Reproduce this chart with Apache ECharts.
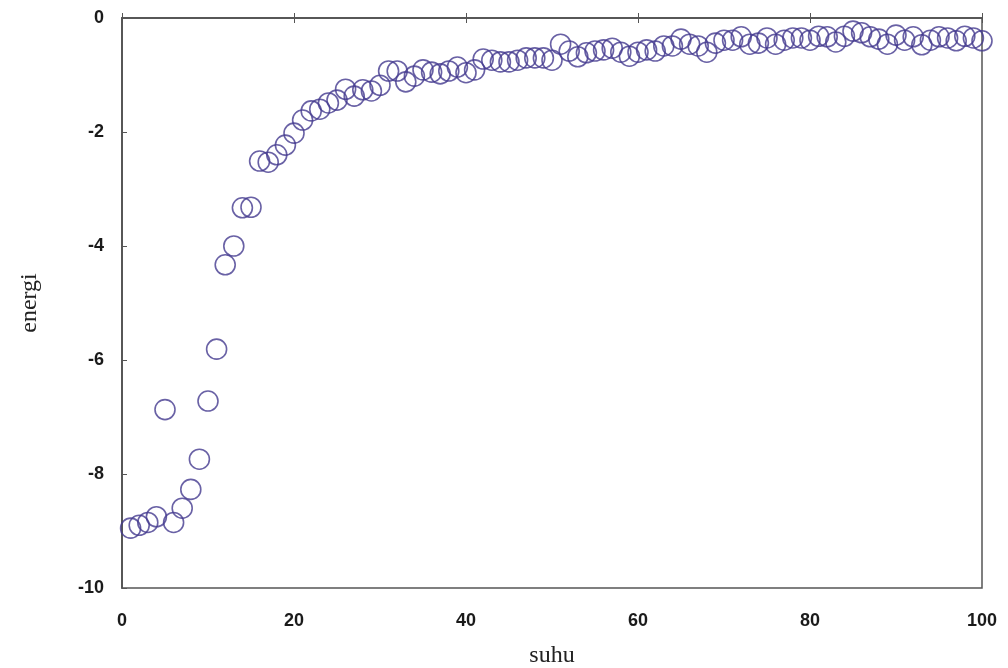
<!DOCTYPE html>
<html>
<head>
<meta charset="utf-8">
<script src="https://cdn.jsdelivr.net/npm/echarts@6/dist/echarts.min.js"></script>
<style>html,body{margin:0;padding:0;background:#fff;}#c{width:1008px;height:668px;}</style>
</head>
<body>
<div id="c"></div>
<script>
const suhu = [];
for (let i = 1; i <= 100; i++) suhu.push(i);
const energi = [
 -8.95,-8.90,-8.85,-8.75,-6.87,-8.85,-8.60,-8.27,-7.74,-6.72,
 -5.81,-4.33,-4.00,-3.33,-3.32,-2.51,-2.53,-2.40,-2.23,-2.02,
 -1.79,-1.63,-1.60,-1.49,-1.44,-1.25,-1.37,-1.26,-1.28,-1.18,
 -0.93,-0.93,-1.12,-1.02,-0.91,-0.95,-0.98,-0.93,-0.86,-0.96,
 -0.91,-0.72,-0.74,-0.77,-0.77,-0.74,-0.70,-0.70,-0.70,-0.74,
 -0.46,-0.58,-0.68,-0.61,-0.58,-0.56,-0.53,-0.60,-0.67,-0.60,
 -0.56,-0.58,-0.49,-0.49,-0.37,-0.46,-0.49,-0.60,-0.44,-0.39,
 -0.39,-0.33,-0.46,-0.44,-0.35,-0.46,-0.39,-0.35,-0.35,-0.39,
 -0.32,-0.33,-0.42,-0.32,-0.23,-0.26,-0.33,-0.37,-0.46,-0.30,
 -0.39,-0.33,-0.47,-0.39,-0.33,-0.35,-0.40,-0.32,-0.35,-0.40
];
const xTicks = [0, 20, 40, 60, 80, 100];
const yTicks = [0, -2, -4, -6, -8, -10];

const points = suhu.map((x, i) => [x, energi[i]]);
const labelStyle = {fontFamily: 'Liberation Sans, Arial, sans-serif', fontWeight: 'bold', fontSize: 18, color: '#1a1a1a'};
const axisLine = {show: true, lineStyle: {color: '#555', width: 1.5}};
const tick = {show: true, inside: true, length: 5, lineStyle: {color: '#555'}};

const chart = echarts.init(document.getElementById('c'));
chart.setOption({
  animation: false,
  backgroundColor: '#fff',
  grid: {left: 122, right: 26, top: 18, bottom: 80, show: true, borderColor: '#555', borderWidth: 1.5, outerBoundsMode: 'none', containLabel: false},
  xAxis: [{
    type: 'value', min: 0, max: 100, interval: 20,
    name: 'suhu', nameLocation: 'middle', nameGap: 56,
    nameTextStyle: {fontFamily: 'Liberation Serif, DejaVu Serif, serif', fontSize: 24, color: '#222'},
    axisLine: axisLine, axisTick: tick, splitLine: {show: false},
    axisLabel: Object.assign({margin: 24}, labelStyle)
  }, {
    type: 'value', min: 0, max: 100, interval: 20, position: 'top',
    axisLine: axisLine, axisTick: tick, splitLine: {show: false}, axisLabel: {show: false}
  }],
  yAxis: [{
    type: 'value', min: -10, max: 0, interval: 2,
    name: 'energi', nameLocation: 'middle', nameGap: 80, nameRotate: 90,
    nameTextStyle: {fontFamily: 'Liberation Serif, DejaVu Serif, serif', fontSize: 24, color: '#222'},
    axisLine: axisLine, axisTick: tick, splitLine: {show: false},
    axisLabel: Object.assign({margin: 18}, labelStyle)
  }, {
    type: 'value', min: -10, max: 0, interval: 2, position: 'right',
    axisLine: axisLine, axisTick: {show: false}, splitLine: {show: false}, axisLabel: {show: false}
  }],
  series: [{
    type: 'scatter',
    data: points,
    symbol: 'circle',
    symbolSize: 20,
    itemStyle: {color: 'rgba(0,0,0,0)', borderColor: '#43398f', borderWidth: 1.6}
  }]
});
</script>
</body>
</html>
